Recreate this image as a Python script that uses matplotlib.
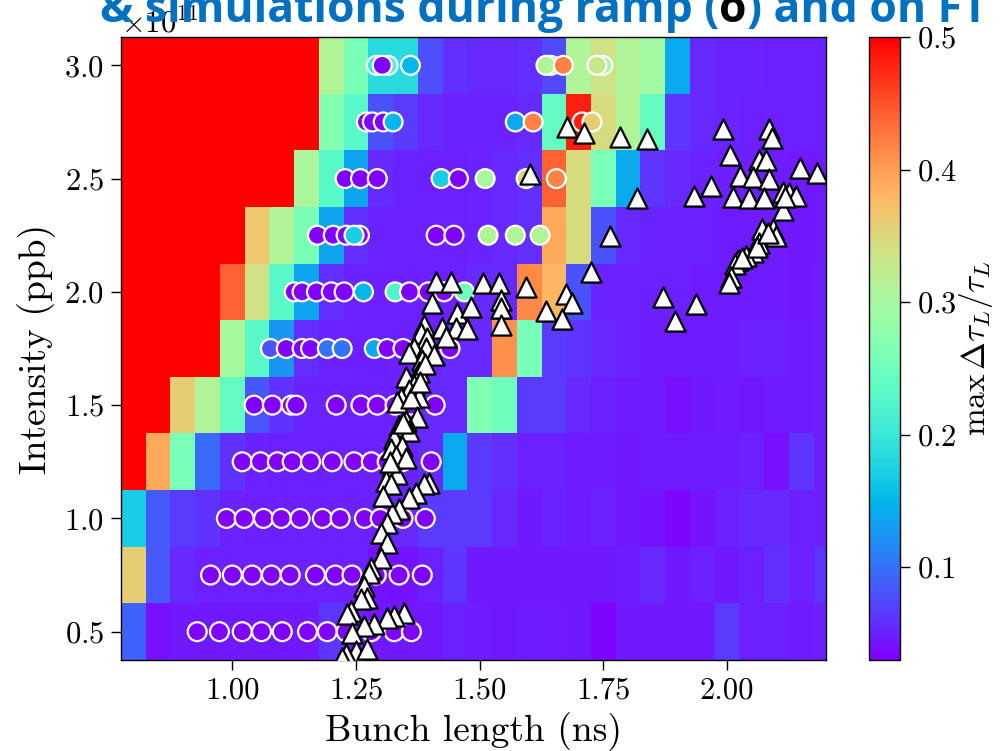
import matplotlib
matplotlib.use("Agg")
import matplotlib.pyplot as plt
import numpy as np
from matplotlib.colors import Normalize

plt.rcParams.update({
    "font.family": "serif",
    "font.serif": ["cmr10"],
    "mathtext.fontset": "cm",
    "axes.formatter.use_mathtext": True,
    "axes.unicode_minus": False,
})

# ---- scan grid: bunch length (ns) x intensity (1e11 ppb) ----
bunch_length_grid = [0.80, 0.85, 0.90, 0.95, 1.00, 1.05, 1.10, 1.15, 1.20, 1.25,
                     1.30, 1.35, 1.40, 1.45, 1.50, 1.55, 1.60, 1.65, 1.70, 1.75,
                     1.80, 1.85, 1.90, 1.95, 2.00, 2.05, 2.10, 2.15, 2.20]
intensity_grid = [0.50, 0.75, 1.00, 1.25, 1.50, 1.75, 2.00, 2.25, 2.50, 2.75, 3.00]

# max relative bunch-length oscillation, one row per intensity (bottom to top)
spread_050 = [0.090, 0.040, 0.045, 0.045, 0.045, 0.045, 0.045, 0.045, 0.062, 0.050, 0.045, 0.045, 0.045, 0.050, 0.048,
              0.045, 0.048, 0.048, 0.045, 0.032, 0.045, 0.045, 0.045, 0.045, 0.065, 0.050, 0.050, 0.048, 0.050]
spread_075 = [0.360, 0.085, 0.055, 0.050, 0.050, 0.050, 0.050, 0.050, 0.050, 0.050, 0.042, 0.042, 0.050, 0.062, 0.045,
              0.045, 0.045, 0.045, 0.045, 0.045, 0.048, 0.055, 0.045, 0.050, 0.045, 0.050, 0.058, 0.050, 0.062]
spread_100 = [0.170, 0.085, 0.065, 0.060, 0.052, 0.050, 0.050, 0.050, 0.050, 0.050, 0.050, 0.055, 0.065, 0.065, 0.065,
              0.055, 0.045, 0.052, 0.048, 0.050, 0.045, 0.042, 0.032, 0.042, 0.050, 0.055, 0.055, 0.050, 0.050]
spread_125 = [0.500, 0.390, 0.260, 0.095, 0.060, 0.052, 0.050, 0.050, 0.050, 0.050, 0.050, 0.052, 0.055, 0.140, 0.065,
              0.058, 0.050, 0.050, 0.048, 0.048, 0.045, 0.048, 0.048, 0.048, 0.048, 0.050, 0.040, 0.062, 0.050]
spread_150 = [0.500, 0.500, 0.360, 0.310, 0.240, 0.082, 0.060, 0.052, 0.050, 0.050, 0.050, 0.050, 0.055, 0.055, 0.265,
              0.250, 0.065, 0.065, 0.055, 0.050, 0.048, 0.048, 0.040, 0.045, 0.048, 0.045, 0.048, 0.048, 0.050]
spread_175 = [0.500, 0.500, 0.500, 0.500, 0.300, 0.230, 0.125, 0.058, 0.052, 0.050, 0.050, 0.050, 0.052, 0.055, 0.055,
              0.410, 0.260, 0.065, 0.062, 0.055, 0.052, 0.048, 0.048, 0.048, 0.048, 0.050, 0.050, 0.048, 0.050]
spread_200 = [0.500, 0.500, 0.500, 0.500, 0.440, 0.340, 0.230, 0.135, 0.058, 0.052, 0.050, 0.050, 0.050, 0.050, 0.055,
              0.055, 0.415, 0.380, 0.080, 0.052, 0.050, 0.050, 0.050, 0.048, 0.048, 0.048, 0.048, 0.045, 0.050]
spread_225 = [0.500, 0.500, 0.500, 0.500, 0.500, 0.365, 0.310, 0.260, 0.135, 0.058, 0.052, 0.050, 0.050, 0.050, 0.052,
              0.055, 0.058, 0.390, 0.345, 0.080, 0.055, 0.052, 0.050, 0.050, 0.048, 0.048, 0.048, 0.045, 0.048]
spread_250 = [0.500, 0.500, 0.500, 0.500, 0.500, 0.500, 0.500, 0.305, 0.230, 0.135, 0.055, 0.052, 0.050, 0.050, 0.052,
              0.055, 0.058, 0.440, 0.345, 0.260, 0.140, 0.062, 0.055, 0.052, 0.050, 0.050, 0.048, 0.045, 0.048]
spread_275 = [0.500, 0.500, 0.500, 0.500, 0.500, 0.500, 0.500, 0.500, 0.270, 0.230, 0.080, 0.065, 0.055, 0.052, 0.052,
              0.052, 0.055, 0.240, 0.480, 0.345, 0.310, 0.240, 0.062, 0.055, 0.052, 0.050, 0.050, 0.050, 0.050]
spread_300 = [0.500, 0.500, 0.500, 0.500, 0.500, 0.500, 0.500, 0.500, 0.310, 0.260, 0.185, 0.185, 0.078, 0.058, 0.055,
              0.055, 0.058, 0.075, 0.310, 0.335, 0.310, 0.295, 0.140, 0.055, 0.052, 0.052, 0.050, 0.050, 0.050]

# ---- simulations during the ramp (circles) ----
sim_length = [1.291, 1.315, 1.303, 1.360, 1.644, 1.634, 1.669, 1.749, 1.737,
              1.271, 1.283, 1.305, 1.325, 1.572, 1.608, 1.707, 1.727,
              1.228, 1.259, 1.293, 1.422, 1.457, 1.511, 1.594, 1.655,
              1.172, 1.204, 1.230, 1.257, 1.246, 1.412, 1.448, 1.517, 1.572, 1.622,
              1.125, 1.141, 1.170, 1.200, 1.226, 1.265, 1.329, 1.358, 1.396, 1.428, 1.469,
              1.077, 1.109, 1.141, 1.158, 1.192, 1.222, 1.287, 1.313, 1.345, 1.440,
              1.044, 1.081, 1.119, 1.129, 1.210, 1.260, 1.293, 1.329, 1.362, 1.410,
              1.020, 1.057, 1.091, 1.121, 1.158, 1.202, 1.246, 1.281, 1.313, 1.343, 1.402,
              0.988, 1.024, 1.063, 1.099, 1.137, 1.182, 1.218, 1.267, 1.299, 1.345, 1.390,
              0.956, 1.000, 1.040, 1.079, 1.117, 1.168, 1.208, 1.242, 1.291, 1.337, 1.384,
              0.929, 0.974, 1.020, 1.059, 1.101, 1.152, 1.192, 1.230, 1.281, 1.327, 1.362]
sim_intensity = [3.00] * 9 + [2.75] * 8 + [2.50] * 8 + [2.25] * 10 + [2.00] * 11 + [1.75] * 10 + \
                [1.50] * 10 + [1.25] * 11 + [1.00] * 11 + [0.75] * 11 + [0.50] * 11
sim_spread = [0.20, 0.22, 0.03, 0.15, 0.20, 0.31, 0.42, 0.29, 0.33,
              0.03, 0.035, 0.03, 0.15, 0.14, 0.42, 0.48, 0.36,
              0.03, 0.03, 0.03, 0.17, 0.03, 0.30, 0.35, 0.42,
              0.03, 0.03, 0.03, 0.03, 0.17, 0.03, 0.03, 0.31, 0.31, 0.31,
              0.03, 0.03, 0.03, 0.03, 0.03, 0.15, 0.22, 0.03, 0.03, 0.03, 0.25,
              0.08, 0.03, 0.03, 0.03, 0.10, 0.10, 0.14, 0.03, 0.03, 0.03] + [0.03] * 54

# ---- beam measurements (triangles) ----
meas_length = [1.412, 1.442, 1.404, 1.455, 1.483, 1.388, 1.424, 1.453, 1.475, 1.382,
               1.394, 1.432, 1.368, 1.392, 1.358, 1.408, 1.384, 1.378, 1.352, 1.368,
               1.358, 1.378, 1.341, 1.333, 1.362, 1.374, 1.352, 1.337, 1.358, 1.327,
               1.343, 1.321, 1.331, 1.352, 1.323, 1.333, 1.311, 1.321, 1.398, 1.388,
               1.372, 1.358, 1.337, 1.323, 1.313, 1.301, 1.313, 1.301, 1.281, 1.277,
               1.267, 1.273, 1.261, 1.240, 1.232, 1.347, 1.327, 1.313, 1.287, 1.267,
               1.242, 1.251, 1.273, 1.230, 1.222, 1.390, 1.380, 1.345, 1.318, 1.305,
               1.507, 1.539, 1.594, 1.602, 1.677, 1.711, 1.784, 1.838, 1.818, 1.764,
               1.725, 1.675, 1.687, 1.634, 1.667, 1.543, 1.543, 1.543, 1.871, 1.895,
               1.937,
               1.992, 2.085, 2.091, 2.006, 2.065, 2.079, 2.026, 2.053, 2.085, 2.147,
               2.182, 1.968, 1.933, 2.012, 2.044, 2.075, 2.113, 2.125, 2.139, 2.113,
               2.071, 2.093, 2.099, 2.065, 2.053, 2.038, 2.022, 2.016, 2.008, 2.004,
               2.030, 2.060, 2.083, 2.118]
meas_intensity = [2.043, 2.043, 1.950, 1.906, 1.932, 1.853, 1.839, 1.839, 1.835, 1.817,
                  1.795, 1.800, 1.751, 1.751, 1.729, 1.720, 1.698, 1.645, 1.623, 1.587,
                  1.565, 1.534, 1.530, 1.512, 1.530, 1.446, 1.432, 1.410, 1.388, 1.357,
                  1.321, 1.308, 1.277, 1.268, 1.233, 1.198, 1.167, 1.154, 1.158, 1.154,
                  1.114, 1.092, 1.043, 1.025, 0.981, 0.937, 0.893, 0.826, 0.782, 0.760,
                  0.703, 0.650, 0.646, 0.592, 0.579, 0.583, 0.570, 0.561, 0.534, 0.525,
                  0.494, 0.414, 0.423, 0.400, 0.383, 1.680, 1.600, 1.420, 1.250, 1.100,
                  2.038, 2.038, 2.021, 2.521, 2.729, 2.702, 2.684, 2.676, 2.415, 2.246,
                  2.087, 1.990, 1.950, 1.915, 1.879, 1.963, 1.927, 1.852, 1.977, 1.870,
                  1.945,
                  2.720, 2.720, 2.680, 2.605, 2.583, 2.583, 2.512, 2.508, 2.499, 2.548,
                  2.525, 2.468, 2.423, 2.419, 2.415, 2.415, 2.441, 2.437, 2.423, 2.361,
                  2.277, 2.277, 2.246, 2.215, 2.175, 2.158, 2.140, 2.122, 2.065, 2.038,
                  2.150, 2.200, 2.260, 2.420]

spread_map = np.array([spread_050, spread_075, spread_100, spread_125, spread_150, spread_175,
                       spread_200, spread_225, spread_250, spread_275, spread_300])
scale = 1e11

fig = plt.figure(figsize=(10.01, 7.51), dpi=100)
ax = fig.add_axes([121 / 1001, 91 / 751, 705 / 1001, 623 / 751])
cax = fig.add_axes([869 / 1001, 91 / 751, 31 / 1001, 623 / 751])

norm = Normalize(vmin=0.03, vmax=0.5)
cmap = plt.get_cmap("rainbow")

mesh = ax.pcolormesh(bunch_length_grid, np.array(intensity_grid) * scale, spread_map,
                     cmap=cmap, norm=norm, shading="nearest", zorder=1)
ax.scatter(sim_length, np.array(sim_intensity) * scale, c=sim_spread, cmap=cmap, norm=norm,
           s=185, edgecolors="white", linewidths=1.6, zorder=3)
ax.scatter(meas_length, np.array(meas_intensity) * scale, marker="^", s=210,
           facecolors="white", edgecolors="black", linewidths=1.6, zorder=4)

ax.set_xlim(0.775, 2.2)
ax.set_ylim(0.375 * scale, 3.125 * scale)
ax.set_xticks([1.00, 1.25, 1.50, 1.75, 2.00])
ax.set_xticklabels(["1.00", "1.25", "1.50", "1.75", "2.00"])
ax.set_yticks(np.array([0.5, 1.0, 1.5, 2.0, 2.5, 3.0]) * scale)
ax.tick_params(labelsize=22, length=7, width=1.0, direction="out", pad=5)
ax.yaxis.get_offset_text().set_fontsize(22)
ax.set_xlabel("Bunch length (ns)", fontsize=27, labelpad=6)
ax.set_ylabel("Intensity (ppb)", fontsize=27, labelpad=6)
for sp in ax.spines.values():
    sp.set_linewidth(1.0)

cb = fig.colorbar(mesh, cax=cax)
cb.set_ticks([0.1, 0.2, 0.3, 0.4, 0.5])
cb.ax.tick_params(labelsize=22, length=7, width=1.0, pad=5)
cb.set_label(r"$\max\,\mathit{\Delta}\tau_L/\tau_L$", fontsize=24, labelpad=0)
cb.outline.set_linewidth(1.0)

# slide heading, only its lower part lies inside the image
heading_parts = [("& simulations during ramp (", "#0070C0"), ("o", "black"), (") and on FT", "#0070C0")]
renderer = fig.canvas.get_renderer()
x_px = 100
for txt, col in heading_parts:
    t = fig.text(x_px / 1001, 1 - 22 / 751, txt, color=col, fontsize=32, fontweight="bold",
                 family="Open Sans", ha="left", va="baseline")
    bb = t.get_window_extent(renderer=renderer)
    x_px = bb.x1

fig.savefig("out.png", dpi=100)
